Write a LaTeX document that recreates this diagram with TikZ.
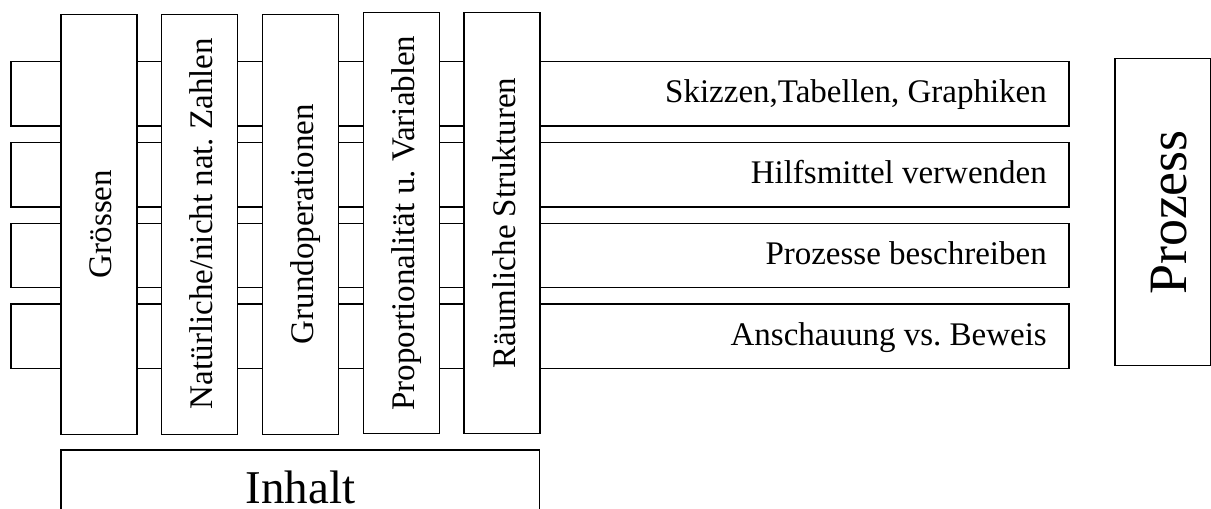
\documentclass[tikz,border=0pt]{standalone}
\usepackage{fontspec}
\setmainfont{Liberation Serif}
\frenchspacing
\begin{document}
\begin{tikzpicture}[x=1pt,y=-1pt,
  box/.style={draw=black, fill=white, line width=1.3pt, inner sep=0pt, outer sep=0pt, anchor=north west},
  lbl/.style={inner sep=0pt, font=\fontsize{33}{40}\selectfont\frenchspacing},
  vlbl/.style={lbl, rotate=90, anchor=base}]
\useasboundingbox (0,0) rectangle (1211,509);
% horizontal bars
\node[box, minimum width=1058pt, minimum height=64.5pt] (b1) at (11,61.5) {};
\node[box, minimum width=1058pt, minimum height=64.5pt] (b2) at (11,142.5) {};
\node[box, minimum width=1058pt, minimum height=64.5pt] (b3) at (11,223.3) {};
\node[box, minimum width=1058pt, minimum height=64.5pt] (b4) at (11,304) {};
% vertical columns
\node[box, minimum width=76pt, minimum height=419.5pt] (c1) at (61,14.7) {};
\node[box, minimum width=76pt, minimum height=419.5pt] (c2) at (161.7,14.7) {};
\node[box, minimum width=76pt, minimum height=419.5pt] (c3) at (262.5,14.7) {};
\node[box, minimum width=76pt, minimum height=421pt] (c4) at (363.3,12.7) {};
\node[box, minimum width=76pt, minimum height=421pt] (c5) at (464,12.7) {};
% Prozess and Inhalt boxes
\node[box, minimum width=95.5pt, minimum height=307.5pt] (pz) at (1115,58.3) {};
\node[box, minimum width=478.5pt, minimum height=80pt] (ih) at (61,450) {};
% bar labels
\node[lbl, anchor=base east] (t1) at (1047,102.7) {Skizzen,Tabellen, Graphiken};
\node[lbl, anchor=base east] (t2) at (1047,183.7) {Hilfsmittel verwenden};
\node[lbl, anchor=base east] (t3) at (1047,264.5) {Prozesse beschreiben};
\node[lbl, anchor=base east] (t4) at (1047,345) {Anschauung vs. Beweis};
% column labels
\node[vlbl] (v1) at (111.5,224) {Grössen};
\node[vlbl] (v2) at (212.8,223.5) {Natürliche/nicht nat. Zahlen};
\node[vlbl] (v3) at (313.5,224) {Grundoperationen};
\node[vlbl] (v4) at (414.3,223) {Proportionalität u. Variablen};
\node[vlbl] (v5) at (515,223) {Räumliche Strukturen};
% big labels
\node[inner sep=0pt, font=\fontsize{54}{60}\selectfont, rotate=90, anchor=base] (pt) at (1186,212.5) {Prozess};
\node[inner sep=0pt, text depth=0pt, font=\fontsize{47}{54}\selectfont, anchor=base] (it) at (300.5,503) {Inhalt};
\end{tikzpicture}
\end{document}
